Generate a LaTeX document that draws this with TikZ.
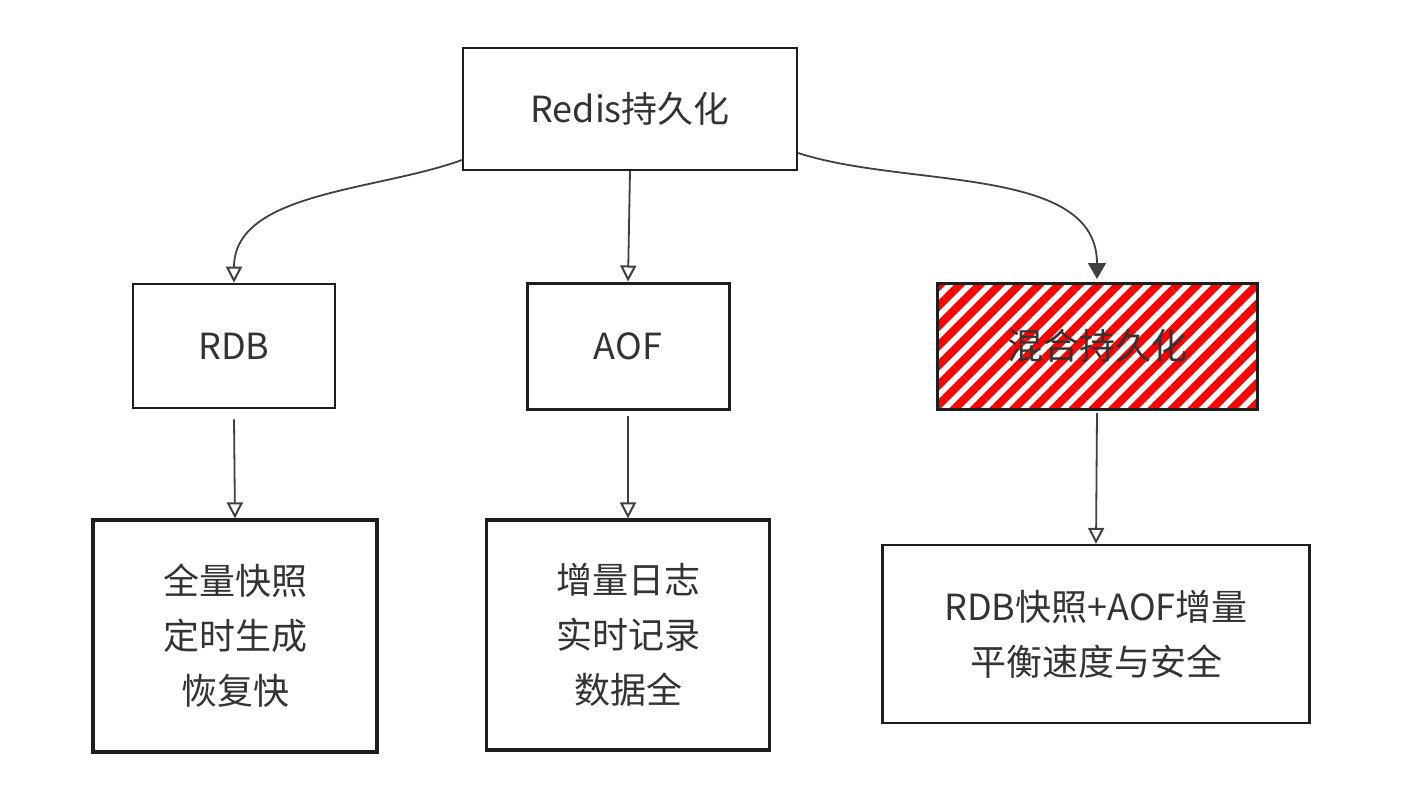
\documentclass[tikz,border=0pt]{standalone}
\usepackage{fontspec}
\setmainfont{Noto Sans CJK SC}
\usetikzlibrary{arrows.meta,positioning,patterns.meta}

\definecolor{ink}{HTML}{1E1E1E}
\definecolor{txt}{HTML}{333333}

\begin{document}
\begin{tikzpicture}[x=0.5pt, y=-0.5pt, >={Triangle[open,length=8pt,width=8pt,line width=1pt]},
  box/.style={draw=ink, line width=1.1pt, align=center, text=txt, font=\fontsize{18pt}{27.5pt}\selectfont, inner sep=0pt},
  link/.style={->, draw=ink!85, line width=0.9pt}]
\useasboundingbox (0,0) rectangle (1415,809);
\node[box, minimum width=167pt, minimum height=61pt] (redis) at (630,109) {Redis持久化};
\node[box, line width=1.3pt, minimum width=101pt, minimum height=62pt] (rdb) at (234,346) {RDB};
\node[box, line width=1.5pt, minimum width=101pt, minimum height=63pt] (aof) at (628,346) {AOF};
\node[box, line width=1.5pt, minimum width=160pt, minimum height=63pt,
  pattern={Lines[angle=45,distance=7pt,line width=4pt]}, pattern color=red] (mix) at (1097,346) {混合持久化};
\node[box, line width=1.6pt, minimum width=142pt, minimum height=116pt] (rdbnote) at (235,636) {全量快照\\定时生成\\恢复快};
\node[box, line width=1.6pt, minimum width=141.5pt, minimum height=115pt] (aofnote) at (628,635) {增量日志\\实时记录\\数据全};
\node[box, minimum width=213.5pt, minimum height=89pt] (mixnote) at (1096,634) {RDB快照+AOF增量\\平衡速度与安全};
% arrows from the root
\draw[link] (redis.west |- 0,160) to[out=200, in=90, looseness=0.9] (rdb.north);
\draw[link] (redis.south) -- (aof.north);
\draw[link, >={Triangle[length=8pt,width=9pt]}] (redis.east |- 0,153) to[out=-18, in=90, looseness=0.9] (mix.north);
% arrows to the notes
\draw[link] (rdb.south) ++(0,10) -- (rdbnote.north);
\draw[link] (aof.south) ++(0,5) -- (aofnote.north);
\draw[link] (mix.south) -- (mixnote.north);
\end{tikzpicture}
\end{document}
